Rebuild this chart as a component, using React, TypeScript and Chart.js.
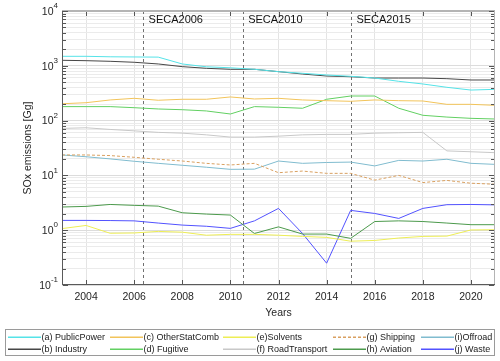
import React, { useEffect, useRef } from "react";
import { Chart, registerables } from "chart.js";

Chart.register(...registerables);

const years = [2003, 2004, 2005, 2006, 2007, 2008, 2009, 2010, 2011, 2012, 2013, 2014, 2015, 2016, 2017, 2018, 2019, 2020, 2021];

const publicPower = [1490, 1490, 1460, 1450, 1440, 1080, 960, 920, 863, 782, 730, 680, 643, 598, 521, 466, 405, 361, 372];
const industry = [1260, 1240, 1208, 1160, 1080, 965, 900, 863, 863, 782, 708, 651, 632, 598, 598, 598, 582, 551, 551];
const otherStatComb = [203, 212, 238, 255, 235, 245, 245, 270, 248, 255, 238, 231, 225, 238, 231, 228, 198, 198, 190];
const fugitive = [180, 180, 180, 172, 163, 158, 150, 132, 180, 175, 168, 245, 281, 281, 168, 125, 116, 110, 107];
const solvents = [1.07, 1.22, 0.88, 0.89, 0.95, 0.92, 0.81, 0.84, 0.84, 0.81, 0.77, 0.74, 0.63, 0.65, 0.72, 0.77, 0.78, 1.01, 1.02];
const roadTransport = [72, 74, 69, 65, 61, 59, 55, 50, 50, 52, 55, 56, 56, 59, 60, 61, 28, 27, 26];
const shipping = [23.6, 23.6, 23, 21.4, 19.7, 18.3, 16.6, 15.5, 16.6, 11.2, 12, 10.9, 10.9, 8.2, 10, 7.4, 8.1, 7.2, 6.9];
const aviation = [2.65, 2.72, 2.95, 2.84, 2.75, 2.08, 1.97, 1.89, 0.87, 1.15, 0.85, 0.85, 0.71, 1.44, 1.48, 1.44, 1.35, 1.26, 1.26];
const offroad = [23.6, 21.9, 20, 18.1, 16.6, 15.3, 14.1, 12.9, 13, 18.3, 16.6, 17.2, 17.5, 14.9, 18.8, 18.3, 19.7, 16.6, 15.9];
const waste = [1.51, 1.51, 1.5, 1.48, 1.35, 1.24, 1.18, 1.08, 1.48, 2.5, 0.87, 0.25, 2.3, 2.02, 1.64, 2.5, 2.92, 2.95, 2.9];

const seriesLabels = [
  "(a) PublicPower", "(b) Industry", "(c) OtherStatComb", "(d) Fugitive", "(e)Solvents",
  "(f) RoadTransport", "(g) Shipping", "(h) Aviation", "(i)Offroad", "(j) Waste",
];
const seriesValues = [publicPower, industry, otherStatComb, fugitive, solvents, roadTransport, shipping, aviation, offroad, waste];
const seriesColors = ["#55e3e8", "#474747", "#f2c45a", "#62d062", "#eeee55", "#c8c8c8", "#d9a060", "#4c9a4c", "#80bccf", "#5252ff"];
const seriesDashed = [false, false, false, false, false, false, true, false, false, false];

const xTickValues = [2004, 2006, 2008, 2010, 2012, 2014, 2016, 2018, 2020];
const yExponents = [-1, 0, 1, 2, 3, 4];
const secaYears = [2006.37, 2010.51, 2015.01];
const secaLabels = ["SECA2006", "SECA2010", "SECA2015"];

const FONT = "'Liberation Sans', Arial, Helvetica, sans-serif";

const overlay = {
  id: "overlay",
  beforeDatasetsDraw(chart: any) {
    const { ctx, chartArea: a, scales } = chart;
    ctx.save();
    ctx.strokeStyle = "#707070";
    ctx.lineWidth = 1;
    ctx.setLineDash([3, 3]);
    secaYears.forEach((v) => {
      const px = Math.round(scales.x.getPixelForValue(v)) + 0.5;
      ctx.beginPath();
      ctx.moveTo(px, a.top);
      ctx.lineTo(px, a.bottom);
      ctx.stroke();
    });
    ctx.restore();
  },
  afterDraw(chart: any) {
    const { ctx, chartArea: a, scales } = chart;
    const xs = scales.x;
    const ys = scales.y;
    ctx.save();
    ctx.setLineDash([]);
    ctx.lineWidth = 1;
    const L = Math.round(a.left), R = Math.round(a.right), T = Math.round(a.top), B = Math.round(a.bottom);
    ctx.fillStyle = "#b4b4b4";
    ctx.fillRect(L, T - 1, R - L, 2);
    ctx.fillRect(R - 1, T, 1, B - T);
    ctx.fillStyle = "#5a5a5a";
    ctx.fillRect(L, T, 1, B - T);
    ctx.fillRect(L, B - 1, R - L, 1);
    ctx.fillStyle = "#555";
    xTickValues.forEach((v) => {
      const px = Math.round(xs.getPixelForValue(v));
      ctx.fillRect(px, B - 5, 1, 4);
      ctx.fillRect(px, T + 1, 1, 4);
    });
    yExponents.forEach((e) => {
      for (let s = 1; s <= 9; s++) {
        const v = s * Math.pow(10, e);
        if (v > 10000 || v < 0.1) continue;
        const py = Math.round(ys.getPixelForValue(v));
        const len = s === 1 ? 5 : 3;
        ctx.fillRect(L + 1, py, len, 1);
        ctx.fillRect(R - 1 - len, py, len, 1);
      }
    });
    ctx.fillStyle = "#262626";
    ctx.font = `10.5px ${FONT}`;
    ctx.textAlign = "center";
    ctx.textBaseline = "middle";
    xTickValues.forEach((v) => {
      ctx.fillText(String(v), xs.getPixelForValue(v), a.bottom + 12);
    });
    yExponents.forEach((e) => {
      const py = ys.getPixelForValue(Math.pow(10, e));
      const expStr = String(e);
      ctx.font = `8px ${FONT}`;
      const ew = ctx.measureText(expStr).width;
      ctx.textAlign = "right";
      ctx.textBaseline = "middle";
      ctx.fillText(expStr, a.left - 4, py - 5);
      ctx.font = `10.5px ${FONT}`;
      ctx.fillText("10", a.left - 4 - ew, py + 1);
    });
    ctx.font = `10.5px ${FONT}`;
    ctx.textAlign = "center";
    ctx.textBaseline = "middle";
    ctx.fillText("Years", (a.left + a.right) / 2, a.bottom + 28);
    ctx.save();
    ctx.translate(28, (a.top + a.bottom) / 2);
    ctx.rotate(-Math.PI / 2);
    ctx.fillText("SOx emissions [Gg]", 0, 0);
    ctx.restore();
    ctx.fillStyle = "#111";
    ctx.font = `11px ${FONT}`;
    ctx.textAlign = "left";
    secaYears.forEach((v, i) => {
      ctx.fillText(secaLabels[i], xs.getPixelForValue(v) + 5.5, a.top + 9);
    });
    // legend
    ctx.fillStyle = "#ffffff";
    ctx.fillRect(5, 329, 490, 27);
    ctx.fillStyle = "#9a9a9a";
    ctx.fillRect(5, 329, 490, 1);
    ctx.fillRect(5, 355, 490, 1);
    ctx.fillRect(5, 329, 1, 27);
    ctx.fillRect(494, 329, 1, 27);
    const colStarts = [8, 110, 223, 333, 421];
    const rowYs = [337, 349];
    ctx.font = `9px ${FONT}`;
    ctx.textBaseline = "middle";
    ctx.textAlign = "left";
    seriesLabels.forEach((lab, i) => {
      const col = Math.floor(i / 2);
      const row = i % 2;
      const x0 = colStarts[col];
      const y0 = rowYs[row];
      ctx.fillStyle = seriesColors[i];
      if (seriesDashed[i]) {
        for (let d = 0; d < 33; d += 5) ctx.fillRect(x0 + d, y0 - 0.5, Math.min(3, 33 - d), 1.5);
      } else {
        ctx.fillRect(x0, y0 - 0.5, 33, 1.5);
      }
      ctx.fillStyle = "#1a1a1a";
      ctx.fillText(lab, x0 + 33.5, y0 + 0.5);
    });
    ctx.restore();
  },
};

export default function App() {
  const ref = useRef<HTMLCanvasElement | null>(null);
  useEffect(() => {
    if (!ref.current) return;
    const datasets = seriesLabels.map((lab, i) => ({
      label: lab,
      data: years.map((yr, j) => ({ x: yr, y: seriesValues[i][j] })),
      borderColor: seriesColors[i],
      backgroundColor: seriesColors[i],
      borderWidth: 1,
      borderDash: seriesDashed[i] ? [3, 2] : [],
      pointRadius: 0,
      tension: 0,
      fill: false,
    }));
    const chart = new Chart(ref.current, {
      type: "line",
      data: { datasets },
      options: {
        animation: false,
        responsive: false,
        devicePixelRatio: 1,
        layout: { padding: { left: 62, right: 5, top: 11, bottom: 76 } },
        plugins: { legend: { display: false }, tooltip: { enabled: false } },
        scales: {
          x: {
            type: "linear",
            min: 2003,
            max: 2021,
            afterBuildTicks: (scale: any) => {
              scale.ticks = xTickValues.map((v) => ({ value: v }));
            },
            ticks: { display: false },
            grid: { color: "#e4e4e4", drawTicks: false, lineWidth: 1 },
            border: { display: false },
          },
          y: {
            type: "logarithmic",
            min: 0.1,
            max: 10000,
            afterBuildTicks: (scale: any) => {
              const t: any[] = [];
              yExponents.forEach((e) => {
                for (let s = 1; s <= 9; s++) {
                  const v = s * Math.pow(10, e);
                  if (v >= 0.1 && v <= 10000) t.push({ value: v, major: s === 1 });
                }
              });
              scale.ticks = t;
            },
            ticks: { display: false },
            grid: {
              drawTicks: false,
              color: (c: any) => {
                const v = c.tick ? c.tick.value : 1;
                const l = Math.log10(v);
                return Math.abs(l - Math.round(l)) < 1e-6 ? "#dcdcdc" : "#ebebeb";
              },
            },
            border: { display: false },
          },
        },
      },
      plugins: [overlay],
    });
    return () => chart.destroy();
  }, []);
  return (
    <div style={{ position: "absolute", left: 0, top: 0, width: 500, height: 361, background: "#fff" }}>
      <canvas ref={ref} width={500} height={361} style={{ width: 500, height: 361, display: "block" }} />
    </div>
  );
}
